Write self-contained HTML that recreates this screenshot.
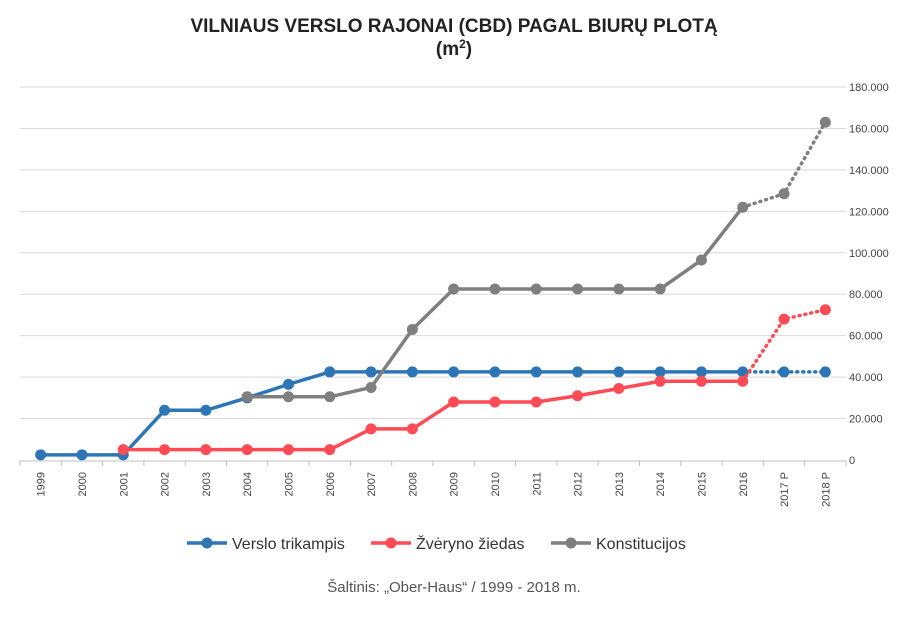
<!DOCTYPE html>
<html><head><meta charset="utf-8"><style>
body{margin:0;background:#fff;font-family:"Liberation Sans",sans-serif}
svg text{font-family:"Liberation Sans",sans-serif}
</style></head><body>
<svg id="c" width="919" height="612" xmlns="http://www.w3.org/2000/svg">
<text x="454" y="32" text-anchor="middle" font-size="19" font-weight="bold" fill="#222">VILNIAUS VERSLO RAJONAI (CBD) PAGAL BIURŲ PLOTĄ</text>
<text x="454" y="55" text-anchor="middle" font-size="19" font-weight="bold" fill="#222">(m<tspan font-size="12" dy="-7">2</tspan><tspan dy="7">)</tspan></text>
<g id="grid"></g><g id="axes"></g><g id="series"></g>
<g>
<g><line x1="187" y1="543" x2="227" y2="543" stroke="#2e75b6" stroke-width="3.5"/><circle cx="207" cy="543" r="5.5" fill="#2e75b6"/><text x="232" y="549" font-size="16" fill="#333">Verslo trikampis</text></g>
<g><line x1="371" y1="543" x2="411" y2="543" stroke="#ff4b55" stroke-width="3.5"/><circle cx="391" cy="543" r="5.5" fill="#ff4b55"/><text x="416" y="549" font-size="16" fill="#333">Žvėryno žiedas</text></g>
<g><line x1="551" y1="543" x2="591" y2="543" stroke="#7f7f7f" stroke-width="3.5"/><circle cx="571" cy="543" r="5.5" fill="#7f7f7f"/><text x="596" y="549" font-size="16" fill="#333">Konstitucijos</text></g>
</g>
<text x="454" y="592" text-anchor="middle" font-size="15" fill="#555">Šaltinis: „Ober-Haus“  / 1999 - 2018 m.</text>
</svg>
<script>
const categories=["1999","2000","2001","2002","2003","2004","2005","2006","2007","2008","2009","2010","2011","2012","2013","2014","2015","2016","2017 P","2018 P"];
const verslo=[2500,2500,2500,24000,24000,30000,36500,42500,42500,42500,42500,42500,42500,42500,42500,42500,42500,42500,42500,42500];
const zveryno=[null,null,5000,5000,5000,5000,5000,5000,15000,15000,28000,28000,28000,31000,34500,38000,38000,38000,68000,72500];
const konst=[null,null,null,null,null,30500,30500,30500,35000,63000,82500,82500,82500,82500,82500,82500,96500,122000,128500,163000];
const yTicks=[0,20000,40000,60000,80000,100000,120000,140000,160000,180000];
const yTickLabels=["0","20.000","40.000","60.000","80.000","100.000","120.000","140.000","160.000","180.000"];
const forecastStart=17;
const NS="http://www.w3.org/2000/svg";
const L=20,R=846,Y0=460,Y1=87,YMAX=180000;
const band=(R-L)/categories.length;
function x(i){return L+band*(i+0.5);}
function y(v){return Y0-(v/YMAX)*(Y0-Y1);}
function mk(t,a,p){const e=document.createElementNS(NS,t);for(const k in a)e.setAttribute(k,a[k]);p.appendChild(e);return e;}
const grid=document.getElementById('grid'),axes=document.getElementById('axes'),ser=document.getElementById('series');
yTicks.forEach((v,i)=>{
 if(v>0){const g=mk('line',{x1:L,x2:R,y1:y(v),y2:y(v),stroke:'#d9d9d9','stroke-width':1},grid);
 
 }
 const t=mk('text',{x:849,y:y(v)+4,'font-size':11,fill:'#444'},axes);t.textContent=yTickLabels[i];
 
 
});
const ax=mk('line',{x1:L,x2:R,y1:Y0+1,y2:Y0+1,stroke:'#bfbfbf','stroke-width':1},axes);


for(let i=0;i<=categories.length;i++){const tk=mk('line',{x1:L+band*i,x2:L+band*i,y1:Y0+1,y2:Y0+6,stroke:'#bfbfbf'},axes);
 
 }
categories.forEach((c,i)=>{
 const t=mk('text',{x:0,y:0,'font-size':11,fill:'#444','text-anchor':'end',transform:`translate(${x(i)+4},${Y0+12}) rotate(-90)`},axes);t.textContent=c;
 
 
});
function draw(data,color,name){
 const g=mk('g',{},ser);
 
 
 let solid=[],dot=[];
 data.forEach((v,i)=>{if(v==null)return;const p=x(i)+','+y(v);if(i<=forecastStart)solid.push(p);if(i>=forecastStart)dot.push(p);});
 const s=mk('polyline',{points:solid.join(' '),fill:'none',stroke:color,'stroke-width':3.5,'stroke-linejoin':'round'},g);
 
 
 const d=mk('polyline',{points:dot.join(' '),fill:'none',stroke:color,'stroke-width':3.5,'stroke-dasharray':'1 5','stroke-linecap':'round'},g);
 
 
 data.forEach((v,i)=>{if(v==null)return;const c=mk('circle',{cx:x(i),cy:y(v),r:5.5,fill:color},g);
 
 });
}
draw(verslo,'#2e75b6','verslo');
draw(zveryno,'#ff4b55','zveryno');
draw(konst,'#7f7f7f','konstitucijos');
</script>
</body></html>
